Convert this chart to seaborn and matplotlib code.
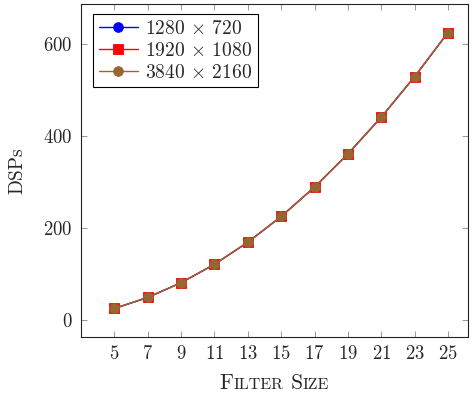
import matplotlib
matplotlib.use("Agg")
import matplotlib.pyplot as plt
import seaborn as sns
import pandas as pd
from matplotlib.offsetbox import TextArea, HPacker, AnchoredOffsetbox

filter_sizes = [5, 7, 9, 11, 13, 15, 17, 19, 21, 23, 25]
dsp_720 = [25, 49, 81, 121, 169, 225, 289, 361, 441, 529, 625]
dsp_1080 = [25, 49, 81, 121, 169, 225, 289, 361, 441, 529, 625]
dsp_2160 = [25, 49, 81, 121, 169, 225, 289, 361, 441, 529, 625]
series_names = [r"1280 $\times$ 720", r"1920 $\times$ 1080", r"3840 $\times$ 2160"]
yticks = [0, 200, 400, 600]

sns.set_style("ticks")
plt.rcParams["font.family"] = ["cmr10", "DejaVu Serif"]
plt.rcParams["mathtext.fontset"] = "cm"
plt.rcParams["axes.formatter.use_mathtext"] = True

df = pd.concat([
    pd.DataFrame({"size": filter_sizes, "dsp": v, "res": n})
    for v, n in zip([dsp_720, dsp_1080, dsp_2160], series_names)
])

fig = plt.figure(figsize=(4.74, 3.96), dpi=100)
ax = fig.add_axes([81/474, 59/396, 387/474, 333/396])

palette = {series_names[0]: "#0000ff", series_names[1]: "#ff0000", series_names[2]: "#996633"}
markers = {series_names[0]: "o", series_names[1]: "s", series_names[2]: "o"}
sns.lineplot(data=df, x="size", y="dsp", hue="res", style="res", palette=palette,
             markers=markers, dashes=False, markersize=7, linewidth=1.0,
             markeredgewidth=0.6, ax=ax)
for ln in ax.lines:
    ln.set_markeredgecolor(ln.get_color())

ax.set_xlim(3.0, 26.2)
ax.set_ylim(-37, 687)
ax.set_xticks(filter_sizes)
ax.set_yticks(yticks)
ax.tick_params(direction="in", top=True, right=True, length=4, width=0.6,
               labelsize=13.5, color="#888888", pad=6)
for s in ax.spines.values():
    s.set_linewidth(0.8)
    s.set_color("#222222")
ax.set_xlabel("")
ax.set_ylabel("DSPs", fontsize=14, labelpad=12)

leg = ax.legend(loc="upper left", bbox_to_anchor=(0.031, 0.97), fontsize=14,
                frameon=True, fancybox=False, edgecolor="black", framealpha=1,
                handlelength=2.0, borderpad=0.3, labelspacing=0.2, handletextpad=0.4,
                borderaxespad=0)
leg.get_frame().set_linewidth(0.8)
leg.set_title(None)
for h in leg.legend_handles:
    h.set_markeredgecolor(h.get_color())
    h.set_markersize(7)

parts = [TextArea("F", textprops=dict(size=15.5)),
         TextArea("ILTER", textprops=dict(size=11.5)),
         TextArea(" S", textprops=dict(size=15.5)),
         TextArea("IZE", textprops=dict(size=11.5))]
box = HPacker(children=parts, align="baseline", pad=0, sep=0)
anch = AnchoredOffsetbox(loc="upper center", child=box, frameon=False,
                         bbox_to_anchor=(0.5, -0.11), bbox_transform=ax.transAxes,
                         borderpad=0, pad=0)
ax.add_artist(anch)

fig.savefig("out.png", dpi=100)
